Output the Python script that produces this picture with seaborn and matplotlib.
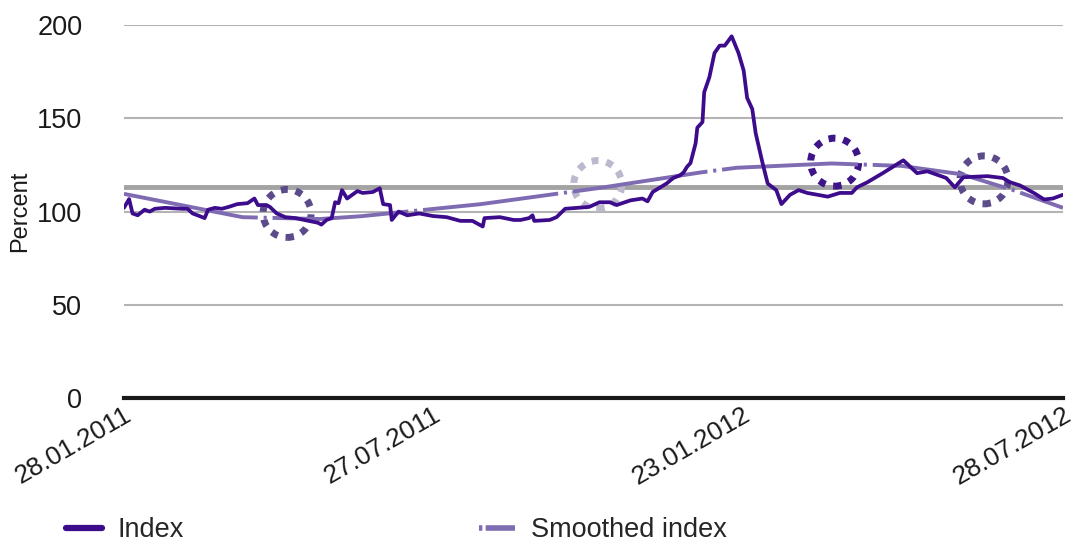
import matplotlib.dates as mdates
import matplotlib.pyplot as plt
import matplotlib.transforms as mtransforms
import pandas as pd
import seaborn as sns
from matplotlib.lines import Line2D
from matplotlib.patches import Circle

START = pd.Timestamp('2011-01-28')
END = pd.Timestamp('2012-07-28')

# index (days after 28.01.2011, percent)
index_days = [0, 3, 5, 8, 12, 15, 18, 24, 34, 37, 40, 44, 47, 49, 53, 57, 61, 66, 72, 76,
              78, 83, 85, 89, 94, 100, 105, 113, 115, 118, 121, 123, 125, 127, 130, 136, 139, 145, 149, 151,
              155, 156, 160, 165, 172, 180, 188, 196, 203, 209, 210, 219, 227, 231, 236, 238, 239, 248, 252, 257,
              264, 271, 277, 283, 287, 295, 302, 305, 308, 316, 320, 324, 326, 328, 330, 333, 334, 337, 338, 341,
              344, 347, 350, 354, 358, 361, 363, 366, 368, 372, 375, 380, 383, 388, 393, 398, 410, 417, 424, 427,
              433, 442, 454, 462, 468, 479, 484, 489, 503, 512, 516, 522, 530, 536, 541, 547]
index_values = [102, 106.7, 99, 98, 101, 100, 101.5, 102, 101.5, 101.5, 99, 97.6, 96.5, 101, 102, 101.5, 102.5, 104, 104.5, 107,
                103.5, 103.5, 102.5, 99, 97, 96.5, 95.5, 94, 93, 95.5, 96.5, 105, 104.5, 111.5, 107, 111, 110, 110.5, 112.5, 104,
                103.5, 95.5, 100, 98, 99, 97.6, 97, 95, 95, 92, 96.5, 97, 95.5, 95.5, 96.5, 98, 95, 95.5, 97, 101.5,
                102, 102.5, 105, 105, 103.5, 106, 107, 105.5, 110.5, 115, 118, 119.5, 121, 124, 126, 136.6, 145, 148, 164, 172,
                185, 189, 189, 194, 185, 175.6, 161, 155, 142, 126, 115, 111.5, 104, 109, 111.5, 110, 108, 110, 110, 113,
                115.7, 120.6, 127.5, 120.6, 121.6, 118, 113, 118.4, 119, 118, 115.8, 114, 110, 106.5, 107, 109]

smooth_days = [0, 69, 114, 138, 208, 278, 336, 357, 412, 453, 488, 518, 547]
smooth_values = [109.5, 97, 96, 97.5, 104, 112.8, 121, 123.5, 125.8, 124.5, 120, 111.5, 102]

ref_level = 113

circle_days = [95, 276, 414, 501]
circle_values = [99, 114.5, 126.5, 117]
circle_colors = ['#5b4b8a', '#bdb8cd', '#3e1588', '#5b4b8a']

tick_dates = ['2011-01-28', '2011-07-27', '2012-01-23', '2012-07-28']
tick_labels = ['28.01.2011', '27.07.2011', '23.01.2012', '28.07.2012']

INDEX_COLOR = '#3d0c8c'
SMOOTH_COLOR = '#7e6bb2'

sns.set_theme(style='white')
plt.rcParams['font.family'] = ['Liberation Sans', 'DejaVu Sans']

df_index = pd.DataFrame({'date': START + pd.to_timedelta(index_days, unit='D'),
                         'value': index_values})
df_smooth = pd.DataFrame({'date': START + pd.to_timedelta(smooth_days, unit='D'),
                          'value': smooth_values})

fig = plt.figure(figsize=(10.76, 5.46), dpi=100)
ax = fig.add_axes([0.1152, 0.271, 0.8727, 0.683])

ax.axhline(ref_level, color='#a3a3a3', lw=3.5, zorder=1.5)

# dotted highlight rings, fixed size in screen space
for d, v, c in zip(circle_days, circle_values, circle_colors):
    xd = mdates.date2num(START + pd.Timedelta(days=d))
    tr = fig.dpi_scale_trans + mtransforms.ScaledTranslation(xd, v, ax.transData)
    ax.add_patch(Circle((0, 0), radius=0.24, transform=tr, fill=False, ec=c,
                        lw=5, linestyle=(0, (1, 1.15)), zorder=1.6))

sns.lineplot(data=df_smooth, x='date', y='value', ax=ax, color=SMOOTH_COLOR, lw=2.8,
             linestyle=(0, (35, 1.5, 0.8, 1.5)), zorder=2)
sns.lineplot(data=df_index, x='date', y='value', ax=ax, color=INDEX_COLOR, lw=2.7, zorder=3)

ax.set_xlim(START, END)
ax.set_ylim(0, 200)
ax.set_yticks([0, 50, 100, 150, 200])
ax.grid(axis='y', color='#b4b4b4', lw=1.5)
ax.set_axisbelow(True)
for s in ['top', 'right', 'left']:
    ax.spines[s].set_visible(False)
ax.spines['bottom'].set_color('#1a1a1a')
ax.spines['bottom'].set_linewidth(3)

ax.set_xticks(pd.to_datetime(tick_dates))
ax.set_xticklabels(tick_labels, rotation=30, ha='right', rotation_mode='anchor')
ax.tick_params(axis='x', length=0, pad=3, labelsize=19, labelcolor='#1a1a1a')
ax.tick_params(axis='y', length=0, pad=30, labelsize=19.5, labelcolor='#1a1a1a')

ax.set_xlabel('')
ax.set_ylabel('Percent', fontsize=17, color='#1a1a1a')
ax.yaxis.set_label_coords(-0.099, 0.5)

handles = [Line2D([], [], color=INDEX_COLOR, lw=4.5),
           Line2D([], [], color=SMOOTH_COLOR, lw=4, linestyle=(0, (0.6, 0.6, 6, 1)))]
fig.legend(handles, ['Index', 'Smoothed index'], loc='lower left', ncol=2,
           bbox_to_anchor=(0.039, -0.04), frameon=False, fontsize=19.5,
           handlelength=1.3, handletextpad=0.6, columnspacing=10.9)

fig.savefig('out.png', dpi=100)
